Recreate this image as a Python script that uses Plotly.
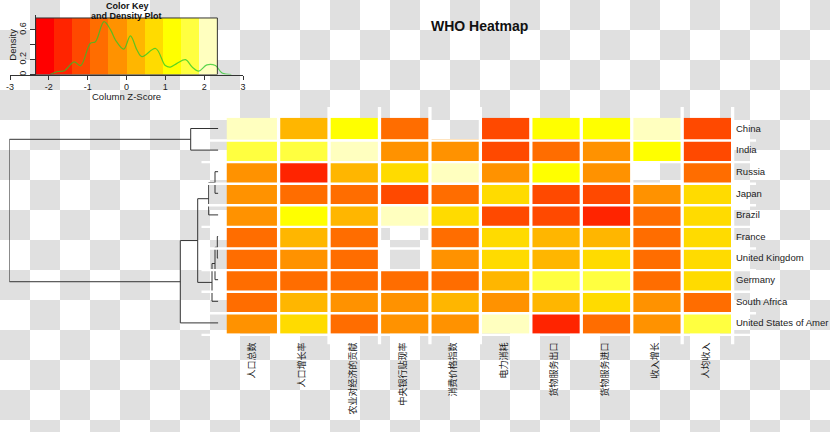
import plotly.graph_objects as go

W, H = 830, 432

countries = ["China", "India", "Russia", "Japan", "Brazil", "France",
             "United Kingdom", "Germany", "South Africa", "United States of Amer"]
indicators = ["人口总数", "人口增长率", "农业对经济的贡献", "中央银行贴现率", "消费价格指数",
              "电力消耗", "货物服务出口", "货物服务进口", "收入增长", "人均收入"]
N = None
zscores = [
    [2.1, 0.2, 1.2, -0.7, N, -1.2, 1.2, 1.2, 2.1, -1.2],        # China
    [1.6, 1.6, 2.1, -0.2, -0.2, -1.2, -0.7, -0.2, 1.2, -1.2],   # India
    [-0.2, -1.6, 0.2, 0.7, 2.1, -0.2, 1.2, -0.2, N, -0.7],      # Russia
    [-0.2, -0.7, -0.7, -1.2, -0.7, 0.7, -1.2, -1.2, -0.2, 0.7], # Japan
    [-0.2, 1.2, 0.2, 2.1, 0.7, -1.2, -1.2, -1.6, -0.7, 0.7],    # Brazil
    [-0.7, 0.2, -0.7, N, -0.7, 0.7, 0.2, 0.2, -0.7, 0.7],       # France
    [-0.7, -0.2, -0.7, N, -0.2, 0.7, 0.2, 0.7, -0.7, 0.7],      # United Kingdom
    [-0.7, -0.7, -0.7, -0.7, -0.7, 0.2, 1.6, 1.6, -0.7, 0.7],   # Germany
    [-0.7, 0.2, -0.2, -0.2, 0.2, -0.2, 0.2, 0.7, -0.2, -0.7],   # South Africa
    [-0.2, 0.7, -0.7, -0.2, -0.2, 2.1, -1.6, -0.7, -0.2, 1.6],  # USA
]

# colour key (heat.colors(10)) and its breaks
key_colors = ["#FF0000", "#FF2400", "#FF4900", "#FF6D00", "#FF9200",
              "#FFB600", "#FFDB00", "#FFFF00", "#FFFF40", "#FFFFBF"]
key_breaks = [-2.34, -1.872, -1.404, -0.936, -0.468, 0.0, 0.468, 0.936, 1.404, 1.872, 2.34]
key_top = 0.76

# density of z-scores (read from the key)
dens_x = [-1.97, -1.77, -1.6, -1.35, -1.18, -0.93, -0.8, -0.58, -0.41, -0.28, -0.07, 0.1,
          0.27, 0.4, 0.75, 1.0, 1.13, 1.3, 1.52, 1.69, 1.86, 2.07, 2.29, 2.46, 2.7]
dens_y = [0.0, 0.04, 0.05, 0.17, 0.12, 0.42, 0.44, 0.71, 0.6, 0.46, 0.34, 0.52,
          0.33, 0.24, 0.35, 0.12, 0.10, 0.15, 0.2, 0.1, 0.045, 0.13, 0.12, 0.02, 0.0]

# row dendrogram merges: (child a, child b, height); leaves 0..9, new nodes 10..
merges = [(5, 6, 1.0), (2, 3, 3.3), (10, 7, 3.3), (12, 8, 6.3), (11, 4, 9.6),
          (0, 1, 27.6), (14, 13, 20.6), (16, 9, 38.0), (15, 17, 209.0)]

# ---------------- layout geometry (pixels) ----------------
def px(x):
    return x / W

def py(y):
    return 1 - y / H

hm_left, hm_right, hm_top, hm_bottom = 226.5, 731.0, 117.7, 333.7
cw = (hm_right - hm_left) / 10
rh = (hm_bottom - hm_top) / 10

colorscale = []
for i, c in enumerate(key_colors):
    colorscale.append([i / 10, c])
    colorscale.append([(i + 1) / 10, c])
zmin, zmax = key_breaks[0], key_breaks[-1]

fig = go.Figure()

# checkerboard background
shapes = []
for r in range(15):
    for c in range(28):
        if (r + c) % 2 == 1:
            shapes.append(dict(type="rect", xref="paper", yref="paper", layer="below",
                               x0=px(c * 30), x1=px(min(c * 30 + 30, W)),
                               y0=py(min(r * 30 + 30, H)), y1=py(r * 30),
                               fillcolor="#E0E0E0", line=dict(width=0)))

# main heatmap
fig.add_trace(go.Heatmap(z=zscores, x=list(range(10)), y=list(range(10)),
                         colorscale=colorscale, zmin=zmin, zmax=zmax, showscale=False,
                         hoverongaps=False, xaxis="x", yaxis="y"))

# separators (white strips extending half a cell outside)
for k in range(10):
    shapes.append(dict(type="rect", xref="x4", yref="y4", layer="above",
                       x0=k + 0.5, x1=k + 0.5 + 0.065, y0=-1, y1=10,
                       fillcolor="white", line=dict(width=0)))
    shapes.append(dict(type="rect", xref="x4", yref="y4", layer="above",
                       x0=-1, x1=10, y0=k + 0.5, y1=k + 0.5 + 0.11,
                       fillcolor="white", line=dict(width=0)))

# dendrogram
pos = {i: (0.0, float(i)) for i in range(10)}
dx, dy = [], []
nid = 10
for a, b, h in merges:
    ha, ya = pos[a]
    hb, yb = pos[b]
    dx += [ha, h, h, hb, None]
    dy += [ya, ya, yb, yb, None]
    pos[nid] = (h, (ya + yb) / 2)
    nid += 1
fig.add_trace(go.Scatter(x=dx, y=dy, mode="lines", line=dict(color="#333333", width=1),
                         xaxis="x3", yaxis="y", cliponaxis=False, hoverinfo="skip",
                         showlegend=False))

# colour key
fig.add_trace(go.Heatmap(z=[[(key_breaks[i] + key_breaks[i + 1]) / 2 for i in range(10)]],
                         x=key_breaks, y=[0, key_top], colorscale=colorscale,
                         zmin=zmin, zmax=zmax, showscale=False, xaxis="x2", yaxis="y2",
                         hoverinfo="skip"))
fig.add_trace(go.Scatter(x=dens_x, y=dens_y, mode="lines",
                         line=dict(color="rgba(40,200,40,0.75)", width=1.2, shape="spline"),
                         xaxis="x2", yaxis="y2", showlegend=False, hoverinfo="skip"))
shapes.append(dict(type="rect", xref="x2", yref="y2", x0=key_breaks[0], x1=key_breaks[-1],
                   y0=0, y1=key_top, line=dict(color="#333333", width=1), layer="above"))

txt = "#1a1a1a"
lat = "Liberation Sans, Arial, sans-serif"
cjk = "Noto Sans CJK SC"

fig.update_layout(
    width=W, height=H, margin=dict(l=0, r=0, t=0, b=0),
    paper_bgcolor="white", plot_bgcolor="rgba(0,0,0,0)", showlegend=False,
    shapes=shapes,
    xaxis=dict(domain=[px(hm_left), px(hm_right)], range=[-0.5, 9.5], anchor="y",
               tickvals=list(range(10)), ticktext=indicators, tickangle=-90,
               tickfont=dict(family=cjk, size=9, color=txt), ticks="",
               ticklabelstandoff=6, showgrid=False, zeroline=False, showline=False,
               automargin=False),
    yaxis=dict(domain=[py(hm_bottom), py(hm_top)], range=[9.5, -0.5], anchor="x",
               side="right", tickvals=list(range(10)), ticktext=countries,
               tickfont=dict(family=lat, size=9.5, color=txt), ticks="",
               ticklabelstandoff=4, showgrid=False, zeroline=False, showline=False,
               automargin=False),
    xaxis3=dict(domain=[px(9.3), px(218.3)], range=[209.0, 0], anchor="y",
                visible=False),
    xaxis4=dict(domain=[px(hm_left - cw / 2), px(hm_right + cw / 2)], range=[-1, 10],
                anchor="y4", visible=False),
    yaxis4=dict(domain=[py(hm_bottom + rh / 2), py(hm_top - rh / 2)], range=[10, -1],
                anchor="x4", visible=False),
    xaxis2=dict(domain=[px(10), px(243)], range=[-3, 3], anchor="y2",
                tickvals=[-3, -2, -1, 0, 1, 2, 3], ticktext=["-3", "-2", "-1", "0", "1", "2", "3"],
                ticks="outside", ticklen=4, tickcolor="#333333", showline=True,
                linecolor="#333333", linewidth=1, showgrid=False, zeroline=False,
                tickfont=dict(family=lat, size=9, color=txt), automargin=False),
    yaxis2=dict(domain=[py(74.5), py(15)], range=[0, 0.8], anchor="free", position=px(35),
                tickvals=[0, 0.2, 0.4, 0.6], ticktext=["0", "0.2", "", "0.6"], tickangle=-90,
                ticks="outside", ticklen=5, tickcolor="#333333", showline=True,
                linecolor="#333333", linewidth=1, showgrid=False, zeroline=False,
                tickfont=dict(family=lat, size=9, color=txt), automargin=False),
    annotations=[
        dict(text="<b>WHO Heatmap</b>", x=px(479), y=py(26), xref="paper", yref="paper",
             showarrow=False, font=dict(family=lat, size=14, color="#111111"),
             xanchor="center", yanchor="middle"),
        dict(text="<b>Color Key</b>", x=px(127), y=py(5.5), xref="paper", yref="paper",
             showarrow=False, font=dict(family=lat, size=9, color="#111111"),
             xanchor="center", yanchor="middle"),
        dict(text="<b>and Density Plot</b>", x=px(126.5), y=py(15.5), xref="paper", yref="paper",
             showarrow=False, font=dict(family=lat, size=9, color="#111111"),
             xanchor="center", yanchor="middle"),
        dict(text="Column Z-Score", x=px(126.7), y=py(96.5), xref="paper", yref="paper",
             showarrow=False, font=dict(family=lat, size=9.5, color=txt),
             xanchor="center", yanchor="middle"),
        dict(text="Density", x=px(12.7), y=py(45), xref="paper", yref="paper",
             showarrow=False, font=dict(family=lat, size=9.5, color=txt), textangle=-90,
             xanchor="center", yanchor="middle"),
    ],
)

fig.write_html("out.html", config={"displayModeBar": False})
